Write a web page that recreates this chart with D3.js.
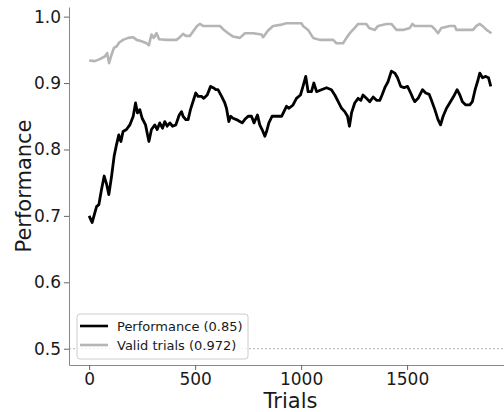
<!DOCTYPE html>
<html>
<head>
<meta charset="utf-8">
<script src="https://cdn.jsdelivr.net/npm/d3@7"></script>
<style>
  body { margin: 0; background: #fff; }
  svg { display: block; font-family: "DejaVu Sans", sans-serif; }
</style>
</head>
<body>
<div id="chart"></div>
<script>
// running performance over trials
var perfTrials = [0, 14, 35, 46, 58, 71, 83, 93, 106, 118, 129, 140, 150, 160, 176, 192, 208, 219, 228, 239,
    250, 266, 282, 294, 310, 321, 333, 346, 357, 368, 381, 393, 409, 425, 436, 443, 456, 467, 478, 494,
    503, 514, 530, 541, 557, 573, 585, 598, 608, 625, 640, 648, 659, 668, 679, 695, 711, 722, 734, 750,
    766, 778, 794, 805, 816, 829, 837, 848, 863, 884, 908, 931, 943, 962, 978, 997, 1009, 1022, 1033, 1049,
    1060, 1073, 1096, 1120, 1143, 1159, 1175, 1191, 1206, 1219, 1228, 1238, 1253, 1269, 1282, 1292, 1308, 1324, 1340, 1356,
    1371, 1382, 1395, 1410, 1426, 1442, 1455, 1470, 1486, 1502, 1517, 1528, 1536, 1552, 1573, 1588, 1604, 1615, 1631, 1646,
    1658, 1670, 1686, 1701, 1720, 1736, 1749, 1761, 1777, 1796, 1808, 1821, 1835, 1843, 1856, 1871, 1884, 1895];
var perfValues = [0.700, 0.690, 0.714, 0.717, 0.739, 0.760, 0.747, 0.732, 0.760, 0.790, 0.807, 0.822, 0.812, 0.827, 0.830, 0.837, 0.850, 0.870, 0.855, 0.860,
    0.847, 0.837, 0.812, 0.830, 0.837, 0.830, 0.840, 0.832, 0.842, 0.835, 0.840, 0.835, 0.837, 0.852, 0.857, 0.850, 0.845, 0.845, 0.860, 0.876,
    0.885, 0.880, 0.880, 0.877, 0.882, 0.895, 0.893, 0.890, 0.890, 0.880, 0.870, 0.862, 0.842, 0.850, 0.847, 0.845, 0.842, 0.840, 0.845, 0.850,
    0.850, 0.840, 0.852, 0.837, 0.830, 0.820, 0.827, 0.840, 0.850, 0.850, 0.850, 0.865, 0.862, 0.867, 0.877, 0.882, 0.895, 0.910, 0.887, 0.887,
    0.900, 0.887, 0.890, 0.893, 0.890, 0.882, 0.872, 0.862, 0.857, 0.850, 0.835, 0.855, 0.870, 0.877, 0.874, 0.882, 0.877, 0.872, 0.879, 0.874,
    0.874, 0.882, 0.893, 0.902, 0.918, 0.915, 0.908, 0.895, 0.893, 0.895, 0.885, 0.877, 0.872, 0.877, 0.890, 0.885, 0.883, 0.874, 0.860, 0.845,
    0.837, 0.850, 0.862, 0.870, 0.880, 0.890, 0.882, 0.872, 0.867, 0.867, 0.872, 0.890, 0.905, 0.915, 0.908, 0.910, 0.908, 0.895];

// share of valid trials
var validTrials = [0, 27, 50, 74, 85, 94, 106, 117, 129, 142, 160, 184, 208, 224, 247, 271, 282, 294, 305, 318,
    330, 365, 412, 428, 443, 456, 475, 491, 509, 522, 538, 617, 632, 656, 679, 711, 735, 774, 813, 821,
    844, 868, 908, 931, 1002, 1009, 1033, 1057, 1088, 1151, 1167, 1198, 1214, 1230, 1253, 1269, 1308, 1321, 1348, 1363,
    1403, 1426, 1450, 1481, 1513, 1525, 1536, 1615, 1631, 1646, 1662, 1701, 1725, 1733, 1811, 1827, 1843, 1859, 1875, 1898];
var validValues = [0.934, 0.933, 0.936, 0.940, 0.945, 0.930, 0.943, 0.953, 0.955, 0.961, 0.965, 0.968, 0.969, 0.965, 0.963, 0.960, 0.957, 0.973, 0.968, 0.975,
    0.966, 0.965, 0.965, 0.969, 0.974, 0.971, 0.971, 0.978, 0.986, 0.989, 0.986, 0.986, 0.981, 0.975, 0.970, 0.968, 0.975, 0.975, 0.973, 0.969,
    0.979, 0.986, 0.988, 0.990, 0.990, 0.986, 0.980, 0.968, 0.965, 0.965, 0.960, 0.960, 0.968, 0.975, 0.983, 0.989, 0.989, 0.983, 0.980, 0.986,
    0.989, 0.989, 0.980, 0.980, 0.983, 0.989, 0.986, 0.986, 0.981, 0.975, 0.983, 0.986, 0.986, 0.980, 0.980, 0.986, 0.989, 0.985, 0.980, 0.975];

var xTicks = [0, 500, 1000, 1500];
var yTicks = [0.5, 0.6, 0.7, 0.8, 0.9, 1.0];
var chanceLevel = 0.5;
var legendLabels = ["Performance (0.85)", "Valid trials (0.972)"];

var width = 504, height = 412;
var margin = {top: 7, right: -8, bottom: 47, left: 69};

var svg = d3.select("#chart")
    .append("svg")
    .attr("width", width)
    .attr("height", height);

var xscale = d3.scaleLinear()
    .domain([-95, 1995])
    .range([margin.left, width - margin.right]);
var yscale = d3.scaleLinear()
    .domain([0.4755, 1.0145])
    .range([height - margin.bottom, margin.top]);

// dotted line at chance
svg.append("line")
    .attr("x1", margin.left)
    .attr("x2", width)
    .attr("y1", yscale(chanceLevel))
    .attr("y2", yscale(chanceLevel))
    .attr("stroke", "#aaa")
    .attr("stroke-width", 0.9)
    .attr("stroke-dasharray", "2,2");

var line = d3.line()
    .x(function (d) { return xscale(d[0]); })
    .y(function (d) { return yscale(d[1]); });

svg.append("path")
    .datum(d3.zip(validTrials, validValues))
    .attr("fill", "none")
    .attr("stroke", "#b5b5b5")
    .attr("stroke-width", 2.6)
    .attr("stroke-linejoin", "round")
    .attr("d", line);

svg.append("path")
    .datum(d3.zip(perfTrials, perfValues))
    .attr("fill", "none")
    .attr("stroke", "#000")
    .attr("stroke-width", 2.8)
    .attr("stroke-linejoin", "round")
    .attr("d", line);

// axes
var xaxis = svg.append("g")
    .attr("transform", "translate(0," + (height - margin.bottom) + ")")
    .call(d3.axisBottom(xscale).tickValues(xTicks).tickFormat(d3.format("d")).tickSize(5).tickPadding(3).tickSizeOuter(0));
var yaxis = svg.append("g")
    .attr("transform", "translate(" + margin.left + ",0)")
    .call(d3.axisLeft(yscale).tickValues(yTicks).tickFormat(d3.format(".1f")).tickSize(5).tickPadding(3).tickSizeOuter(0));

[xaxis, yaxis].forEach(function (a) {
    a.select(".domain").attr("stroke", "#888").attr("stroke-width", 1);
    a.selectAll(".tick line").attr("stroke", "#666").attr("stroke-width", 1);
    a.selectAll(".tick text")
        .attr("fill", "#1a1a1a")
        .style("font-family", "DejaVu Sans")
        .style("font-size", "17px");
});

svg.append("text")
    .attr("x", xscale(950))
    .attr("y", 408)
    .attr("text-anchor", "middle")
    .attr("fill", "#1a1a1a")
    .style("font-size", "21px")
    .text("Trials");

svg.append("text")
    .attr("transform", "translate(31," + ((margin.top + height - margin.bottom) / 2) + ") rotate(-90)")
    .attr("text-anchor", "middle")
    .attr("fill", "#1a1a1a")
    .style("font-size", "21px")
    .text("Performance");

// legend
var legend = svg.append("g").attr("transform", "translate(77,314)");
legend.append("rect")
    .attr("width", 171)
    .attr("height", 45)
    .attr("rx", 3)
    .attr("fill", "#fff")
    .attr("fill-opacity", 0.8)
    .attr("stroke", "#ccc")
    .attr("stroke-width", 1);

var legendColors = ["#000", "#b5b5b5"];
legendLabels.forEach(function (lab, i) {
    var y = 12 + i * 19;
    legend.append("line")
        .attr("x1", 3).attr("x2", 31)
        .attr("y1", y).attr("y2", y)
        .attr("stroke", legendColors[i])
        .attr("stroke-width", 2.6);
    legend.append("text")
        .attr("x", 40)
        .attr("y", y + 4.5)
        .attr("fill", "#1a1a1a")
        .style("font-size", "13px")
        .text(lab);
});
</script>
</body>
</html>
